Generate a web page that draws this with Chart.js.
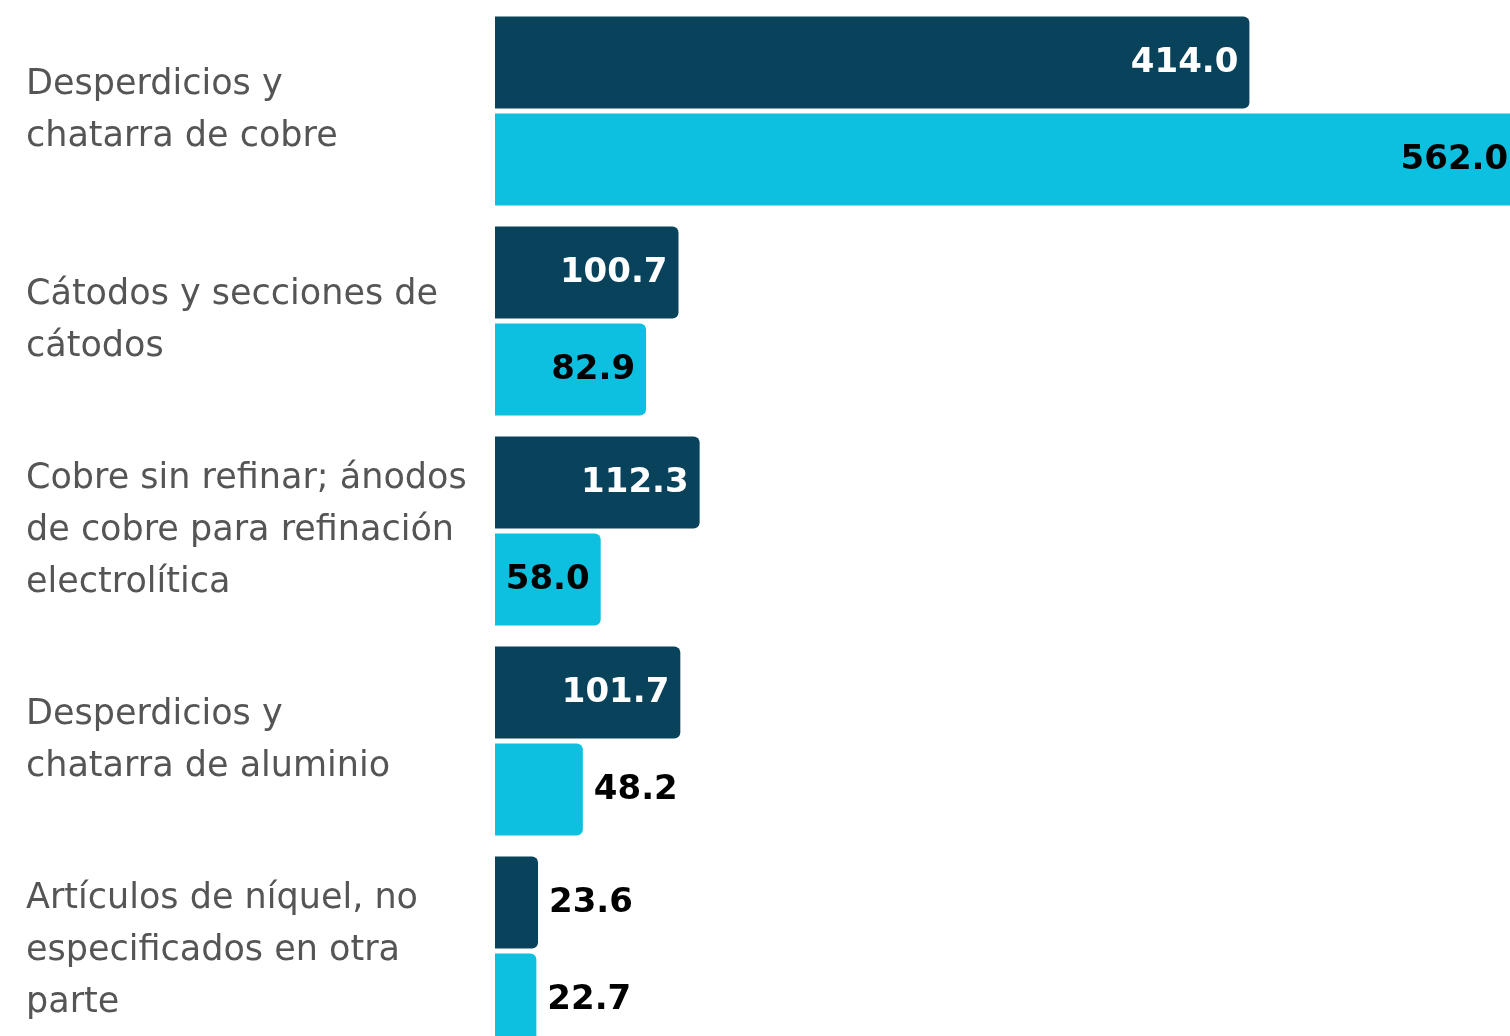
<!DOCTYPE html>
<html>
<head>
<meta charset="utf-8">
<script src="https://cdn.jsdelivr.net/npm/chart.js@4"></script>
<style>
  html, body { margin: 0; padding: 0; background: #fff; overflow: hidden; }
  #wrap { position: relative; width: 1510px; height: 1060px; }
</style>
</head>
<body>
<div id="wrap"><canvas id="chartExport"></canvas></div>
<script>
// categorias (multi-linea como en la imagen)
const categorias = [
   ['Desperdicios y', 'chatarra de cobre'],
   ['Cátodos y secciones de', 'cátodos'],
   ['Cobre sin refinar; ánodos', 'de cobre para refinación', 'electrolítica'],
   ['Desperdicios y', 'chatarra de aluminio'],
   ['Artículos de níquel, no', 'especificados en otra', 'parte']
];
const serieA = [414.0, 100.7, 112.3, 101.7, 23.6];
const serieB = [562.0, 82.9, 58.0, 48.2, 22.7];

const colorA = '#08435b';
const colorB = '#0dc0e0';
const labelFont = "bold 34px 'DejaVu Sans'";

// etiquetas de valor: dentro de la barra si cabe, si no afuera
const valueLabels = {
   id: 'valueLabels',
   afterDatasetsDraw(chart) {
      const ctx = chart.ctx;
      ctx.save();
      ctx.font = labelFont;
      ctx.textBaseline = 'middle';
      chart.data.datasets.forEach((ds, di) => {
         const meta = chart.getDatasetMeta(di);
         meta.data.forEach((bar, i) => {
            const txt = ds.data[i].toFixed(1);
            const w = ctx.measureText(txt).width;
            const barW = bar.x - bar.base;
            if (barW > w + 16) {
               ctx.textAlign = 'right';
               ctx.fillStyle = di === 0 ? '#ffffff' : '#000000';
               ctx.fillText(txt, bar.x - 11, bar.y + 1);
            } else {
               ctx.textAlign = 'left';
               ctx.fillStyle = '#000000';
               ctx.fillText(txt, bar.x + 11, bar.y + 1);
            }
         });
      });
      ctx.restore();
   }
};

const ctx = document.getElementById('chartExport').getContext('2d');
new Chart(ctx, {
   type: 'bar',
   data: {
      labels: categorias,
      datasets: [{
         label: 'A',
         data: serieA,
         backgroundColor: colorA,
         borderRadius: 6,
         borderSkipped: 'start',
         categoryPercentage: 0.924,
         barPercentage: 0.948
      }, {
         label: 'B',
         data: serieB,
         backgroundColor: colorB,
         borderRadius: 6,
         borderSkipped: 'start',
         categoryPercentage: 0.924,
         barPercentage: 0.948
      }]
   },
   options: {
      indexAxis: 'y',
      responsive: true,
      maintainAspectRatio: false,
      animation: false,
      layout: {
         padding: { left: 26, right: 0, top: 6, bottom: 4 }
      },
      plugins: {
         legend: { display: false },
         tooltip: { enabled: false }
      },
      scales: {
         x: {
            display: false,
            min: 0,
            max: 557
         },
         y: {
            grid: { display: false },
            border: { display: false },
            afterFit: (scale) => {
               scale.width = 469;
               scale.paddingTop = 0;
               scale.paddingBottom = 0;
            },
            ticks: {
               crossAlign: 'far',
               color: '#555555',
               padding: 0,
               font: {
                  family: "'DejaVu Sans'",
                  size: 35,
                  lineHeight: 1.49
               }
            }
         }
      }
   },
   plugins: [valueLabels]
});
</script>
</body>
</html>
